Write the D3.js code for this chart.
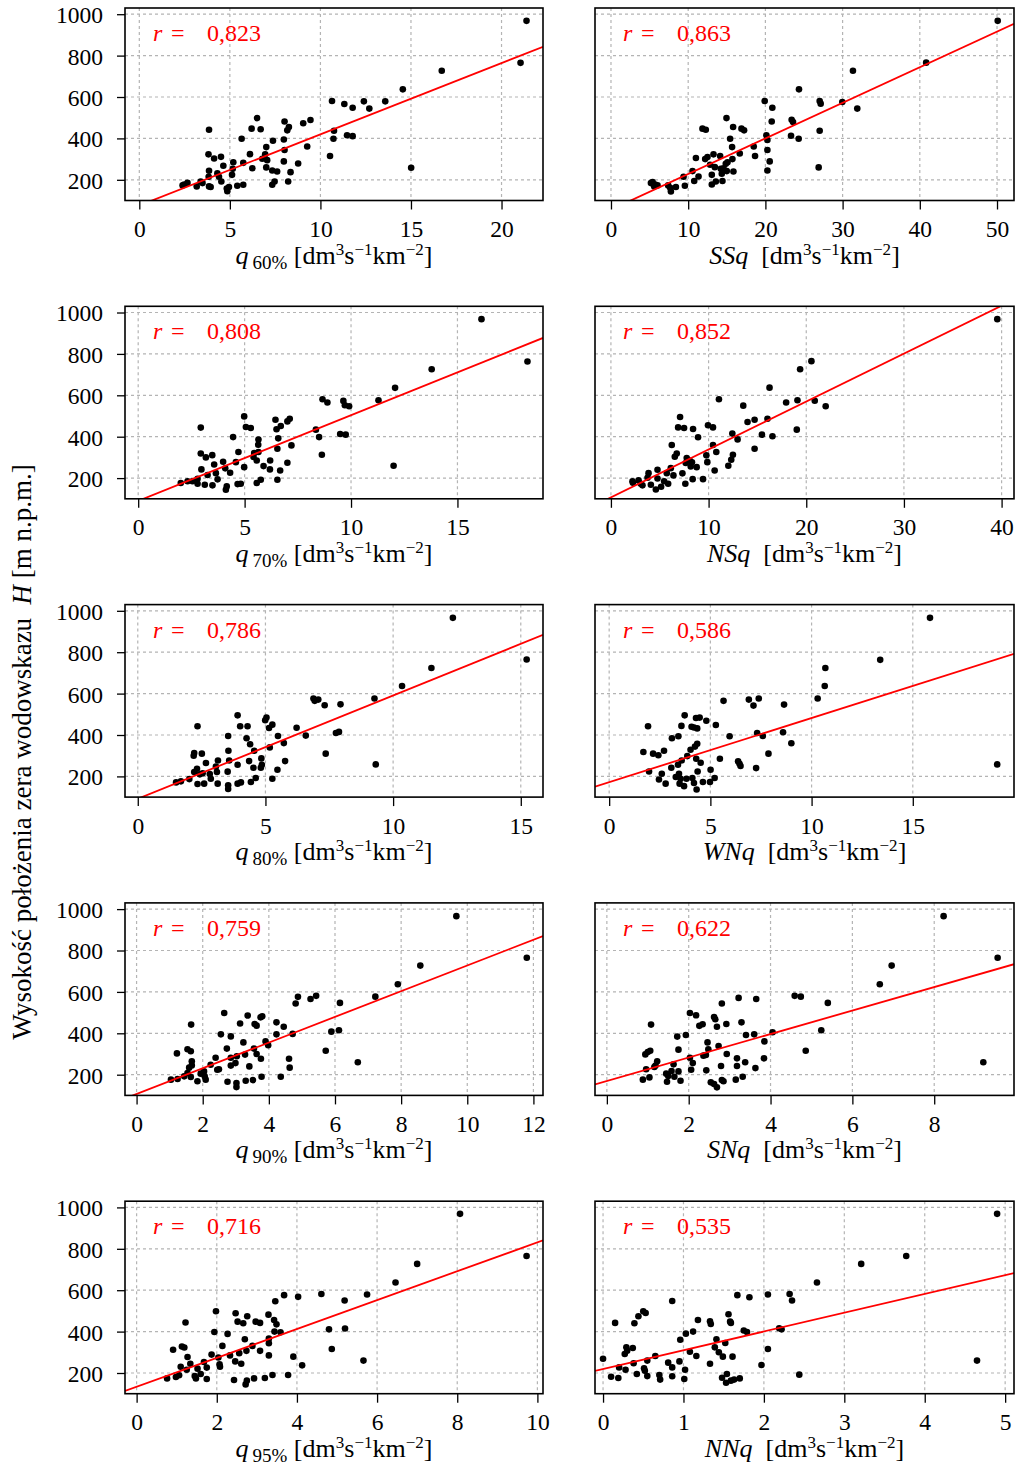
<!DOCTYPE html>
<html>
<head>
<meta charset="utf-8">
<script src="https://cdn.jsdelivr.net/npm/d3@7"></script>
<style>
  body { margin: 0; background: #fff; }
  svg { display: block; }
  text { font-family: "Liberation Serif", "Times New Roman", Times, serif; }
</style>
</head>
<body>
<svg id="chart" width="1017" height="1467"></svg>
<script>
// Gauge datum elevation H [m a.s.l.] against specific low-flow indices.
// Each series: [index value, H]
const q60 = [[21.38,968],[21.05,765],[16.70,727],[14.55,637],[10.64,581],[11.32,566],[11.78,548],[12.40,579],[12.70,544],[13.58,579],[15.01,258],[10.53,315],[10.75,437],[10.72,398],[11.47,415],[11.78,411],[6.50,498],[6.20,447],[6.70,444],[3.85,442],[8.02,482],[8.26,455],[8.17,439],[9.05,473],[9.45,489],[9.27,361],[7.38,389],[7.98,395],[5.65,398],[7.01,358],[8.02,344],[6.95,323],[6.11,324],[3.82,323],[4.51,311],[4.13,303],[6.79,302],[7.06,295],[7.98,289],[8.77,279],[5.19,285],[5.74,282],[4.64,268],[6.24,256],[7.01,260],[7.34,245],[7.61,240],[8.35,237],[3.85,244],[4.31,231],[5.16,253],[5.12,224],[4.40,215],[3.83,215],[4.53,192],[3.39,192],[3.49,184],[8.22,192],[7.47,192],[7.34,176],[2.66,185],[2.48,177],[2.39,173],[3.17,168],[3.85,168],[3.94,165],[5.41,171],[5.74,176],[4.83,158],[4.95,165],[4.86,145]];
const SSq = [[50.09,968],[40.82,766],[31.34,727],[24.35,637],[27.03,581],[27.16,568],[29.96,576],[31.90,544],[19.91,581],[20.90,548],[20.82,482],[23.40,490],[23.58,479],[23.32,413],[24.31,398],[27.03,437],[26.90,260],[14.96,498],[11.85,447],[12.28,442],[15.82,455],[16.90,447],[17.24,439],[15.43,398],[20.13,415],[20.26,392],[15.69,358],[16.68,327],[18.49,361],[18.66,315],[20.26,344],[20.56,289],[20.26,245],[13.28,323],[14.14,315],[12.20,300],[11.00,305],[15.73,300],[15.09,285],[14.87,277],[12.84,273],[14.22,253],[14.57,256],[15.86,240],[15.00,242],[13.06,224],[14.35,229],[10.56,242],[11.34,216],[9.40,215],[10.78,194],[9.57,171],[13.58,192],[14.44,194],[13.06,177],[8.41,165],[7.67,161],[7.76,144],[7.41,173],[5.39,189],[5.73,177],[6.03,173],[5.17,184],[5.60,168],[12.50,310],[13.45,261]];
const q70 = [[16.13,968],[18.29,763],[13.79,726],[12.07,636],[11.29,576],[8.66,581],[8.89,565],[9.64,573],[9.71,552],[9.91,547],[8.35,434],[8.50,398],[8.63,313],[9.49,413],[9.75,410],[12.00,260],[4.98,498],[5.06,447],[5.29,442],[2.94,444],[6.45,482],[6.70,452],[6.50,436],[7.01,474],[7.12,487],[6.58,392],[4.46,398],[5.65,386],[5.64,361],[6.54,342],[7.20,358],[4.71,326],[5.65,326],[2.94,319],[3.48,311],[3.18,300],[5.42,302],[5.57,285],[6.20,285],[7.01,274],[3.99,279],[4.59,277],[3.57,266],[5.89,258],[6.19,242],[6.67,237],[4.98,253],[2.97,242],[4.09,247],[4.32,226],[3.65,224],[3.26,215],[3.73,194],[6.54,192],[5.76,192],[5.57,176],[2.79,173],[3.13,168],[3.49,165],[4.67,171],[4.82,173],[4.16,160],[4.12,144],[2.00,176],[2.32,185],[2.55,185],[2.79,197],[5.45,321]];
const NSq = [[39.56,968],[20.53,765],[19.37,726],[16.24,637],[11.06,581],[13.55,550],[17.94,565],[19.10,576],[20.87,574],[21.99,547],[13.99,471],[14.71,482],[16.03,487],[19.03,434],[16.54,402],[15.46,410],[14.71,342],[12.43,415],[12.97,387],[12.49,313],[12.32,289],[12.02,260],[7.08,495],[6.88,445],[7.49,442],[8.41,437],[8.92,397],[9.94,455],[10.45,445],[10.45,360],[10.79,326],[10.62,237],[6.23,360],[6.74,319],[6.54,303],[7.76,297],[8.30,276],[7.66,273],[8.17,256],[8.78,253],[9.77,310],[9.87,277],[6.13,248],[7.32,223],[8.37,195],[9.43,195],[7.62,173],[6.40,213],[5.72,224],[5.86,173],[5.14,158],[4.60,145],[4.77,240],[4.77,198],[4.09,168],[3.85,224],[3.06,173],[3.23,165],[2.21,185],[2.25,177],[2.83,189],[3.75,202],[5.45,185],[8.07,285]];
const q80 = [[12.34,966],[15.23,765],[11.50,724],[10.35,637],[9.27,576],[6.88,576],[6.93,565],[7.07,571],[7.32,544],[7.94,548],[6.22,435],[6.58,397],[7.36,310],[7.76,410],[7.88,415],[9.32,258],[3.91,495],[4.01,442],[4.30,442],[2.34,442],[5.04,484],[4.99,471],[5.27,450],[5.14,434],[5.49,395],[4.26,384],[4.40,355],[3.54,395],[5.17,340],[5.72,361],[3.55,324],[4.56,324],[2.21,313],[2.51,310],[2.19,300],[4.84,287],[4.36,274],[3.58,277],[3.14,277],[2.67,265],[3.91,256],[4.53,242],[4.82,242],[4.86,256],[5.47,232],[5.77,274],[3.06,247],[3.52,223],[3.10,221],[2.32,237],[2.21,221],[2.54,215],[2.82,211],[2.86,189],[5.27,189],[4.62,192],[4.43,173],[2.34,163],[2.60,165],[3.13,165],[3.91,165],[4.04,171],[3.54,157],[3.54,139],[1.50,171],[1.69,176],[2.02,187],[2.43,210]];
const WNq = [[15.85,966],[13.39,763],[10.68,724],[10.65,637],[10.30,576],[5.65,565],[6.90,571],[7.39,576],[7.13,542],[8.64,547],[19.17,258],[8.59,413],[9.00,360],[7.87,310],[7.26,240],[7.31,410],[7.59,395],[5.95,394],[5.47,285],[6.37,273],[6.49,250],[6.44,261],[3.73,495],[4.29,482],[4.47,484],[4.80,469],[5.27,448],[3.57,444],[4.07,440],[4.19,436],[4.35,432],[1.92,442],[3.10,384],[3.42,394],[4.35,358],[4.24,344],[4.02,329],[3.86,298],[3.58,277],[4.30,285],[4.52,266],[4.37,224],[1.69,318],[2.17,310],[2.43,302],[2.71,324],[3.07,242],[2.60,213],[1.97,224],[2.46,185],[2.79,165],[3.40,256],[3.45,213],[3.53,189],[3.48,165],[3.70,153],[4.19,168],[4.32,137],[4.63,173],[4.98,173],[5.01,232],[5.21,192],[3.29,197],[3.82,189],[4.11,192]];
const q90 = [[9.67,966],[11.80,765],[8.58,727],[7.90,637],[7.22,577],[4.81,544],[4.88,576],[5.26,566],[5.43,581],[6.15,547],[5.89,408],[6.12,415],[5.72,316],[6.69,260],[2.65,498],[3.36,486],[3.13,447],[1.65,442],[3.75,477],[3.80,482],[3.57,445],[3.63,437],[4.23,453],[4.45,432],[4.23,395],[4.72,397],[2.55,395],[2.85,385],[3.90,361],[3.98,342],[3.23,356],[2.73,326],[3.55,326],[1.54,323],[1.64,313],[1.22,303],[3.63,300],[3.28,297],[3.03,289],[2.85,282],[2.39,282],[3.76,277],[4.61,277],[1.67,265],[1.67,245],[1.59,234],[2.85,244],[2.99,256],[3.41,240],[2.49,226],[2.44,224],[2.24,248],[4.63,234],[4.36,190],[3.78,190],[3.52,174],[3.30,171],[3.02,160],[3.02,140],[2.75,166],[2.04,216],[1.94,205],[2.06,192],[1.84,168],[2.09,176],[1.64,189],[1.44,192],[1.24,179],[1.04,176],[1.54,208]];
const SNq = [[8.23,966],[9.55,765],[6.96,727],[6.67,637],[9.20,260],[5.40,547],[4.59,581],[4.74,577],[5.24,415],[4.86,316],[4.05,405],[3.22,571],[3.65,566],[2.81,544],[2.03,498],[2.18,487],[2.62,479],[2.65,468],[2.69,432],[2.92,445],[3.29,453],[2.26,436],[2.34,444],[1.08,442],[1.72,384],[1.93,392],[3.40,392],[3.60,395],[3.85,361],[2.46,356],[2.73,339],[2.48,323],[1.75,321],[1.00,310],[1.06,316],[0.94,298],[2.93,300],[2.36,292],[2.42,295],[2.03,282],[2.10,256],[1.23,265],[1.19,244],[1.63,250],[2.06,224],[2.43,221],[2.79,242],[3.18,279],[3.18,242],[3.38,260],[3.63,232],[3.84,279],[3.32,190],[3.15,176],[2.81,174],[2.85,168],[2.54,163],[2.62,155],[2.69,139],[0.96,226],[1.16,237],[0.88,176],[1.04,187],[1.45,205],[1.50,194],[1.47,166],[1.58,218],[1.75,216],[1.80,171],[1.65,190]];
const q95 = [[8.07,969],[9.73,765],[7.00,727],[6.46,637],[5.75,579],[4.61,582],[5.19,550],[4.03,568],[3.68,576],[3.46,547],[4.80,411],[5.20,415],[4.87,316],[5.66,260],[4.13,237],[3.91,279],[1.98,498],[2.47,489],[2.52,448],[2.66,440],[2.76,474],[2.97,448],[3.08,442],[3.29,482],[3.43,456],[3.49,435],[3.59,397],[3.44,400],[1.22,444],[1.94,398],[2.27,389],[2.70,363],[3.30,366],[3.30,344],[2.14,331],[0.91,312],[1.13,328],[1.19,323],[2.89,331],[2.74,307],[3.08,307],[3.30,285],[1.87,289],[2.33,285],[2.56,296],[2.46,256],[2.61,245],[2.04,275],[2.07,242],[2.08,230],[1.27,277],[1.34,245],[1.10,230],[1.25,216],[1.68,253],[1.75,226],[1.52,221],[1.60,195],[1.48,174],[1.45,185],[1.75,171],[0.98,181],[0.76,174],[3.39,190],[3.20,176],[2.93,174],[2.75,163],[2.72,145],[2.43,166],[3.78,190],[1.06,189]];
const NNq = [[4.90,969],[3.77,765],[3.21,727],[2.66,637],[4.65,260],[2.05,579],[2.32,582],[2.35,550],[1.67,576],[1.82,566],[0.86,548],[2.19,416],[2.22,411],[2.05,316],[2.44,192],[1.97,239],[0.50,498],[0.53,490],[0.44,474],[0.39,440],[0.15,442],[1.18,456],[1.33,450],[1.34,437],[1.56,484],[1.58,448],[1.59,442],[1.75,405],[1.79,398],[1.12,400],[1.03,390],[0.96,361],[1.41,363],[1.52,345],[1.39,324],[1.44,300],[1.49,279],[1.61,279],[1.08,303],[1.16,282],[1.33,245],[0.29,324],[0.30,308],[0.37,321],[0.27,292],[0.00,269],[0.20,227],[0.28,216],[0.38,247],[0.51,223],[0.52,211],[0.55,260],[0.65,282],[0.81,250],[0.86,227],[0.95,256],[1.02,216],[0.86,184],[1.01,171],[0.70,190],[0.71,168],[0.55,185],[0.42,195],[0.10,182],[0.19,176],[1.48,177],[1.54,195],[1.53,153],[1.59,163],[1.63,168],[1.70,174]];

// Panel order: row by row, left then right
const seriesData = [q60, SSq, q70, NSq, q80, WNq, q90, SNq, q95, NNq];
const indexName = ["q", "SSq", "q", "NSq", "q", "WNq", "q", "SNq", "q", "NNq"];
const indexSub  = ["60%", "", "70%", "", "80%", "", "90%", "", "95%", ""];
const rValues   = [0.823, 0.863, 0.808, 0.852, 0.786, 0.586, 0.759, 0.622, 0.716, 0.535];
const fitIntercept = [75.8, 56.0, 89.8, 106.8, 91.8, 172.1, 106.8, 169.7, 133.3, 219.0];
const fitSlope     = [34.4, 17.2, 41.4, 23.15, 49.9, 31.0, 62.1, 56.7, 69.8, 90.8];
const xDomains = [[-0.79, 22.29], [-2.07, 52.2], [-0.62, 19.02], [-1.63, 41.27], [-0.5, 15.87],
                  [-0.7, 20.0], [-0.35, 12.29], [-0.29, 9.95], [-0.29, 10.14], [-0.10, 5.11]];
const xTickValues = [[0,5,10,15,20], [0,10,20,30,40,50], [0,5,10,15], [0,10,20,30,40], [0,5,10,15],
                     [0,5,10,15], [0,2,4,6,8,10,12], [0,2,4,6,8], [0,2,4,6,8,10], [0,1,2,3,4,5]];
const yTickValues = [200, 400, 600, 800, 1000];
const yDomain = [100, 1030];
const yTitle = "Wysokość położenia zera wodowskazu";

const svg = d3.select("#chart");
const serif = "'Liberation Serif', 'Times New Roman', Times, serif";
const colLeft = [125, 595];
const colRight = [543, 1014];
const rowTop = i => 8 + 298.3 * i;
const boxH = 192.5;
const gridColor = "#b4b4b4";
const fmtR = v => d3.format(".3f")(v).replace(".", ",");

function styleAxis(a) {
  a.attr("font-family", serif);
  a.select(".domain").remove();
  a.selectAll(".tick line").attr("stroke", "#000").attr("stroke-width", 1.3);
  a.selectAll(".tick text").attr("fill", "#000").style("font-size", "23.5px").style("font-family", serif);
}

seriesData.forEach((pts, k) => {
  const row = Math.floor(k / 2), col = k % 2;
  const x0 = colLeft[col], x1 = colRight[col];
  const y0 = rowTop(row), y1 = y0 + boxH;
  const x = d3.scaleLinear().domain(xDomains[k]).range([x0, x1]);
  const y = d3.scaleLinear().domain(yDomain).range([y1, y0]);
  const g = svg.append("g");

  const clipId = "clip" + k;
  svg.append("clipPath").attr("id", clipId)
    .append("rect").attr("x", x0).attr("y", y0).attr("width", x1 - x0).attr("height", y1 - y0);

  // dashed grid
  g.append("g").selectAll("line").data(xTickValues[k]).join("line")
    .attr("x1", d => x(d)).attr("x2", d => x(d)).attr("y1", y0).attr("y2", y1)
    .attr("stroke", gridColor).attr("stroke-width", 1.2).attr("stroke-dasharray", "3,3");
  g.append("g").selectAll("line").data(yTickValues).join("line")
    .attr("x1", x0).attr("x2", x1).attr("y1", d => y(d)).attr("y2", d => y(d))
    .attr("stroke", gridColor).attr("stroke-width", 1.2).attr("stroke-dasharray", "3,3");

  // x axis on every panel, y axis only in the left column
  const xAxis = d3.axisBottom(x).tickValues(xTickValues[k]).tickSize(9).tickPadding(11).tickFormat(d3.format("d"));
  styleAxis(g.append("g").attr("transform", `translate(0,${y1})`).call(xAxis));
  if (col === 0) {
    const yAxis = d3.axisLeft(y).tickValues(yTickValues).tickSize(8).tickPadding(14).tickFormat(d3.format("d"));
    const gy = g.append("g").attr("transform", `translate(${x0},0)`).call(yAxis);
    styleAxis(gy);
    gy.selectAll(".tick text").attr("dy", "0.36em");
  }

  // points
  g.append("g").selectAll("circle").data(pts).join("circle")
    .attr("cx", d => x(d[0])).attr("cy", d => y(d[1])).attr("r", 3.3).attr("fill", "#000");

  // regression line
  const [xa, xb] = xDomains[k];
  g.append("line").attr("clip-path", `url(#${clipId})`)
    .attr("x1", x(xa)).attr("y1", y(fitIntercept[k] + fitSlope[k] * xa))
    .attr("x2", x(xb)).attr("y2", y(fitIntercept[k] + fitSlope[k] * xb))
    .attr("stroke", "#ff0000").attr("stroke-width", 1.8);

  // frame
  g.append("rect").attr("x", x0).attr("y", y0).attr("width", x1 - x0).attr("height", y1 - y0)
    .attr("fill", "none").attr("stroke", "#000").attr("stroke-width", 1.6);

  // correlation coefficient
  const ry = y0 + 33;
  g.append("text").attr("x", x0 + 28).attr("y", ry).attr("fill", "#ff0000")
    .style("font-size", "24px").style("font-style", "italic").text("r");
  g.append("text").attr("x", x0 + 46).attr("y", ry).attr("fill", "#ff0000")
    .style("font-size", "24px").text("=");
  g.append("text").attr("x", x0 + 82).attr("y", ry).attr("fill", "#ff0000")
    .style("font-size", "24px").text(fmtR(rValues[k]));

  // x axis title with units
  const t = g.append("text").attr("x", (x0 + x1) / 2).attr("y", y1 + 63)
    .attr("text-anchor", "middle").attr("fill", "#000").style("font-size", "26px");
  t.append("tspan").style("font-style", "italic").text(indexName[k]);
  if (indexSub[k]) {
    t.append("tspan").attr("dx", 4).attr("dy", 5).style("font-size", "19px").text(indexSub[k]);
    t.append("tspan").attr("dy", -5).text(" [dm");
  } else {
    t.append("tspan").text("\u00a0 [dm");
  }
  t.append("tspan").attr("dy", -9).style("font-size", "17px").text("3");
  t.append("tspan").attr("dy", 9).text("s");
  t.append("tspan").attr("dy", -9).style("font-size", "17px").text("\u22121");
  t.append("tspan").attr("dy", 9).text("km");
  t.append("tspan").attr("dy", -9).style("font-size", "17px").text("\u22122");
  t.append("tspan").attr("dy", 9).text("]");
});

// shared y axis title
const yt = svg.append("text")
  .attr("transform", "translate(31,752) rotate(-90)")
  .attr("text-anchor", "middle").attr("fill", "#000").style("font-size", "27px");
yt.append("tspan").text(yTitle + "\u00a0 ");
yt.append("tspan").style("font-style", "italic").text("H");
yt.append("tspan").text(" [m n.p.m.]");
</script>
</body>
</html>
